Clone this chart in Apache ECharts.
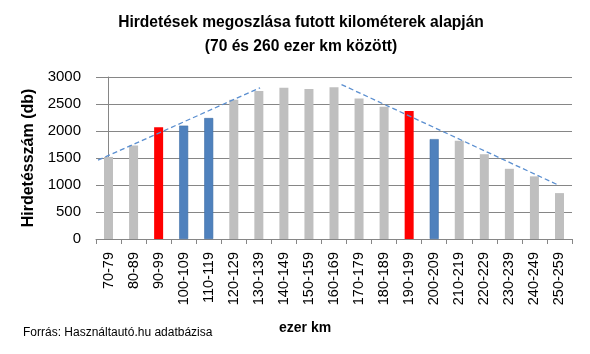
<!DOCTYPE html>
<html>
<head>
<meta charset="utf-8">
<script src="https://cdn.jsdelivr.net/npm/echarts@6/dist/echarts.min.js"></script>
<style>
  html, body { margin: 0; padding: 0; background: #fff; }
  #chart { width: 590px; height: 354px; }
</style>
</head>
<body>
<div id="chart"></div>
<script>
var categories = ['70-79','80-89','90-99','100-109','110-119','120-129','130-139','140-149','150-159','160-169',
  '170-179','180-189','190-199','200-209','210-219','220-229','230-239','240-249','250-259'];
var counts = [1520, 1730, 2070, 2100, 2240, 2580, 2740, 2800, 2780, 2810,
  2600, 2450, 2370, 1850, 1820, 1570, 1300, 1160, 850];
// 'g' gray, 'r' red, 'b' blue
var barKinds = ['g','g','r','b','b','g','g','g','g','g','g','g','r','b','g','g','g','g','g'];
var yTicks = [0, 500, 1000, 1500, 2000, 2500, 3000];
// dashed trend lines, x in category index units
var trendUp = [[-0.42, 1460], [6.05, 2800]];
var trendDown = [[9.3, 2860], [17.95, 1000]];

var kindColor = { g: '#BFBFBF', r: '#FF0000', b: '#4F81BD' };
var font = '"Liberation Sans", Arial, sans-serif';

var chart = echarts.init(document.getElementById('chart'));
chart.setOption({
  animation: false,
  title: {
    text: 'Hirdetések megoszlása futott kilométerek alapján\n(70 és 260 ezer km között)',
    left: 296, top: 6, textAlign: 'center',
    textStyle: { fontFamily: font, fontSize: 15.6, fontWeight: 'bold', color: '#000', lineHeight: 24 }
  },
  graphic: [
    { type: 'text', left: 23, top: 327,
      style: { text: 'Forrás: Használtautó.hu adatbázisa', font: '12px ' + font, fill: '#000' } },
    { type: 'text', left: 279, top: 321,
      style: { text: 'ezer km', font: 'bold 14px ' + font, fill: '#000' } }
  ],
  grid: { left: 96, right: 18, top: 77, bottom: 115, containLabel: false },
  xAxis: [{
    type: 'category', data: categories,
    axisLine: { lineStyle: { color: '#868686' } },
    axisTick: { show: true, length: 5, lineStyle: { color: '#868686' } },
    axisLabel: { rotate: 90, fontFamily: font, fontSize: 14.5, color: '#000', margin: 13 }
  }, {
    type: 'value', min: -0.5, max: 18.5, show: false
  }],
  yAxis: {
    type: 'value', min: 0, max: 3000, interval: 500,
    name: 'Hirdetésszám (db)', nameLocation: 'middle', nameGap: 47, nameRotate: 90,
    nameTextStyle: { fontFamily: font, fontSize: 16, fontWeight: 'bold', color: '#000' },
    axisLine: { show: true, lineStyle: { color: '#868686' } },
    axisTick: { show: true, length: 4, lineStyle: { color: '#868686' } },
    axisLabel: { fontFamily: font, fontSize: 15, color: '#000', margin: 15,
      formatter: function (v) { return yTicks.indexOf(v) >= 0 ? String(v) : ''; } },
    splitLine: { lineStyle: { color: '#868686' } }
  },
  series: [{
    type: 'bar', xAxisIndex: 0, barWidth: 9,
    data: counts.map(function (v, i) {
      var c = kindColor[barKinds[i]];
      return { value: v, itemStyle: { color: c, borderColor: barKinds[i] === 'b' ? '#3f6fa8' : c, borderWidth: barKinds[i] === 'b' ? 0.6 : 0 } };
    })
  }, {
    type: 'line', xAxisIndex: 1, data: trendUp, symbol: 'none', silent: true,
    lineStyle: { color: '#5B8FD0', width: 1.3, type: [5, 3] }
  }, {
    type: 'line', xAxisIndex: 1, data: trendDown, symbol: 'none', silent: true,
    lineStyle: { color: '#5B8FD0', width: 1.3, type: [5, 3] }
  }]
});
</script>
</body>
</html>
